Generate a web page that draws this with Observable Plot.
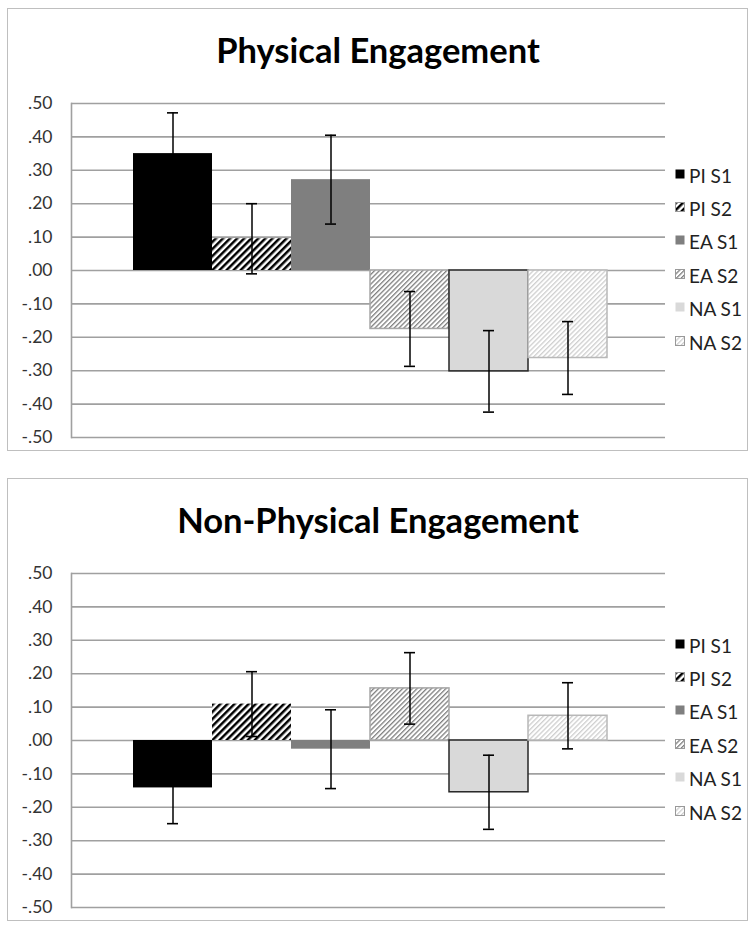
<!DOCTYPE html>
<html><head><meta charset="utf-8">
<script src="https://cdn.jsdelivr.net/npm/d3@7"></script>
<script src="https://cdn.jsdelivr.net/npm/@observablehq/plot@0.6"></script>
<style>
body{margin:0;background:#fff;font-family:Lato,"Open Sans",sans-serif;}
#root{position:relative;width:750px;height:928px;overflow:hidden;}
.panel{position:absolute;left:7px;width:741px;box-sizing:border-box;border:1.5px solid #bfbfbf;}
.title{position:absolute;left:0;width:756px;text-align:center;font-weight:bold;font-size:34.5px;line-height:40px;color:#000;}
.chartsvg{position:absolute;left:0;}
svg.chartsvg text{font-size:17.5px !important;font-family:Lato,sans-serif;}
.legend{position:absolute;left:675px;}
.legend .row{height:33.4px;display:flex;align-items:center;font-size:19px;color:#222;white-space:nowrap;}
.legend .row svg{margin-right:4px;margin-top:-3px;}
</style></head>
<body>
<svg width="0" height="0" style="position:absolute">
  <defs>
    <pattern id="pi2" patternUnits="userSpaceOnUse" width="5" height="5" patternTransform="rotate(45)">
      <rect width="5" height="5" fill="#fff"/><rect width="2.5" height="5" fill="#000"/>
    </pattern>
    <pattern id="ea2" patternUnits="userSpaceOnUse" width="3.4" height="3.4" patternTransform="rotate(45)">
      <rect width="3.4" height="3.4" fill="#fff"/><rect width="1.3" height="3.4" fill="#7f7f7f"/>
    </pattern>
    <pattern id="na2" patternUnits="userSpaceOnUse" width="3.4" height="3.4" patternTransform="rotate(45)">
      <rect width="3.4" height="3.4" fill="#fff"/><rect width="1.3" height="3.4" fill="#cfcfcf"/>
    </pattern>
  </defs>
</svg>
<div id="root"></div>
<script>
// ---- data ----
const series = ["PI S1", "PI S2", "EA S1", "EA S2", "NA S1", "NA S2"];
const physicalMeans = [0.350, 0.095, 0.272, -0.175, -0.302, -0.262];
const physicalErrors = [0.122, 0.105, 0.133, 0.112, 0.122, 0.109];
const nonPhysicalMeans = [-0.142, 0.109, -0.026, 0.156, -0.155, 0.074];
const nonPhysicalErrors = [0.107, 0.097, 0.118, 0.107, 0.111, 0.099];
const yTicks = [-0.5, -0.4, -0.3, -0.2, -0.1, 0, 0.1, 0.2, 0.3, 0.4, 0.5];
const titles = ["Physical Engagement", "Non-Physical Engagement"];

// ---- styles ----
const fills = {"PI S1": "#000000", "PI S2": "url(#pi2)", "EA S1": "#7f7f7f", "EA S2": "url(#ea2)", "NA S1": "#d9d9d9", "NA S2": "url(#na2)"};
const strokes = {"PI S1": "none", "PI S2": "none", "EA S1": "none", "EA S2": "#a6a6a6", "NA S1": "#262626", "NA S2": "#b8b8b8"};
const fmt = v => (v < -1e-9 ? "-" : "") + Math.abs(v).toFixed(2).replace(/^0/, "");

const root = document.getElementById("root");

function makePanel(title, means, errs, offset) {
  const data = series.map((s, i) => ({series: s, value: means[i], lo: means[i] - errs[i], hi: means[i] + errs[i]}));

  const border = document.createElement("div");
  border.className = "panel";
  border.style.top = (8 + offset) + "px";
  border.style.height = "443px";
  root.appendChild(border);

  const t = document.createElement("div");
  t.className = "title";
  t.style.top = (30 + offset) + "px";
  t.textContent = title;
  root.appendChild(t);

  const plot = Plot.plot({
    width: 750,
    height: 442,
    marginLeft: 71,
    marginRight: 85,
    marginTop: 103,
    marginBottom: 5,
    style: {background: "transparent", fontFamily: "Lato, sans-serif", overflow: "visible"},
    x: {domain: series, padding: 0, insetLeft: 60, insetRight: 57, axis: null},
    y: {domain: [-0.5, 0.5]},
    color: {type: "identity"},
    marks: [
      Plot.ruleY(yTicks, {stroke: "#a0a0a0", strokeWidth: 1.6}),
      Plot.frame({anchor: "left", stroke: "#a0a0a0", strokeWidth: 1.6}),
      Plot.axisY(yTicks, {tickFormat: fmt, tickSize: 0, tickPadding: 19, fontSize: 17.5, fill: "#333", label: null}),
      Plot.barY(data, {x: "series", y: "value", fill: d => fills[d.series], stroke: d => strokes[d.series], strokeWidth: 1.5}),
      Plot.ruleX(data, {x: "series", y1: "lo", y2: "hi", stroke: "#000", strokeWidth: 1.5}),
      Plot.tickY(data, {x: "series", y: "lo", insetLeft: 34, insetRight: 34, stroke: "#000", strokeWidth: 1.6}),
      Plot.tickY(data, {x: "series", y: "hi", insetLeft: 34, insetRight: 34, stroke: "#000", strokeWidth: 1.6})
    ]
  });
  plot.classList.add("chartsvg");
  plot.style.top = offset + "px";
  root.appendChild(plot);

  const lg = document.createElement("div");
  lg.className = "legend";
  lg.style.top = (158.5 + offset) + "px";
  series.forEach(s => {
    const row = document.createElement("div");
    row.className = "row";
    row.innerHTML = `<svg width="10" height="10"><rect x="0.5" y="0.5" width="9" height="9" fill="${fills[s]}" stroke="${s.endsWith('S2') ? '#999' : 'none'}" stroke-width="1"/></svg><span>${s}</span>`;
    lg.appendChild(row);
  });
  root.appendChild(lg);
}

makePanel(titles[0], physicalMeans, physicalErrors, 0);
makePanel(titles[1], nonPhysicalMeans, nonPhysicalErrors, 470);
</script>
</body></html>
